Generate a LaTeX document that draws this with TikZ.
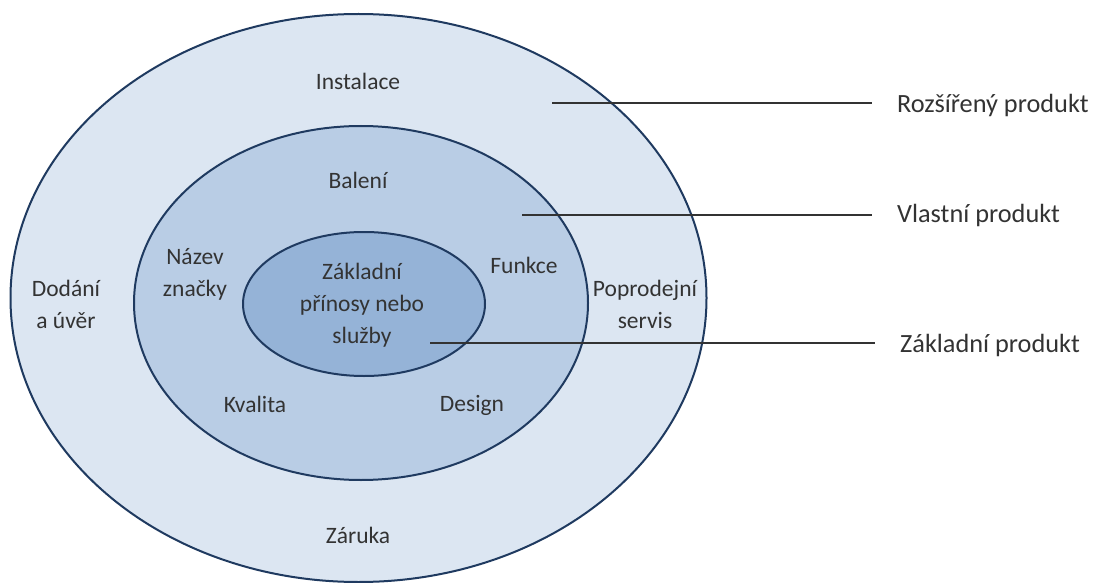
\documentclass[tikz,border=0pt]{standalone}
\usepackage{fontspec}
\setmainfont{Carlito}
\definecolor{ringA}{HTML}{DCE6F2}
\definecolor{ringB}{HTML}{B9CDE5}
\definecolor{ringC}{HTML}{95B3D7}
\definecolor{edge}{HTML}{1F3A60}
\definecolor{txt}{HTML}{333333}
\begin{document}
\begin{tikzpicture}[x=1pt,y=-1pt,
  ring/.style={draw=edge,line width=2pt},
  lbl/.style={text=txt,align=center,inner sep=0pt,font=\fontsize{23.5}{32}\selectfont},
  side/.style={text=txt,anchor=west,inner sep=0pt,font=\fontsize{26.3}{32}\selectfont},
  lead/.style={draw=txt,line width=1.5pt,shorten >=25pt}]
\useasboundingbox (0,0) rectangle (1098,583);
\fill[white] (0,0) rectangle (1098,583);
\draw[ring,fill=ringA] (358.5,298) ellipse [x radius=348, y radius=284];
\draw[ring,fill=ringB] (361,303) ellipse [x radius=227, y radius=177];
\draw[ring,fill=ringC] (364,304) ellipse [x radius=121, y radius=72];
\node[lbl] (inst) at (358,81) {Instalace};
\node[lbl] (bal) at (358,180) {Balení};
\node[lbl] (naz) at (195,274) {Název\\značky};
\node[lbl] (dod) at (66,304) {Dodání\\a úvěr};
\node[lbl] (zak) at (362,305) {Základní\\přínosy nebo\\služby};
\node[lbl] (fun) at (524,265) {Funkce};
\node[lbl] (pop) at (645,304) {Poprodejní\\servis};
\node[lbl] (kva) at (255,404) {Kvalita};
\node[lbl] (des) at (472,405) {Design};
\node[lbl] (zar) at (358,535) {Záruka};
\coordinate (s1) at (552,103);
\coordinate (s2) at (522,215);
\coordinate (s3) at (430,343);
\node[side] (r1) at (897,105) {Rozšířený produkt};
\node[side] (r2) at (897,215) {Vlastní produkt};
\node[side] (r3) at (900,345) {Základní produkt};
\draw[lead] (s1) -- (s1 -| r1.west);
\draw[lead] (s2) -- (s2 -| r2.west);
\draw[lead] (s3) -- (s3 -| r3.west);
\end{tikzpicture}
\end{document}
